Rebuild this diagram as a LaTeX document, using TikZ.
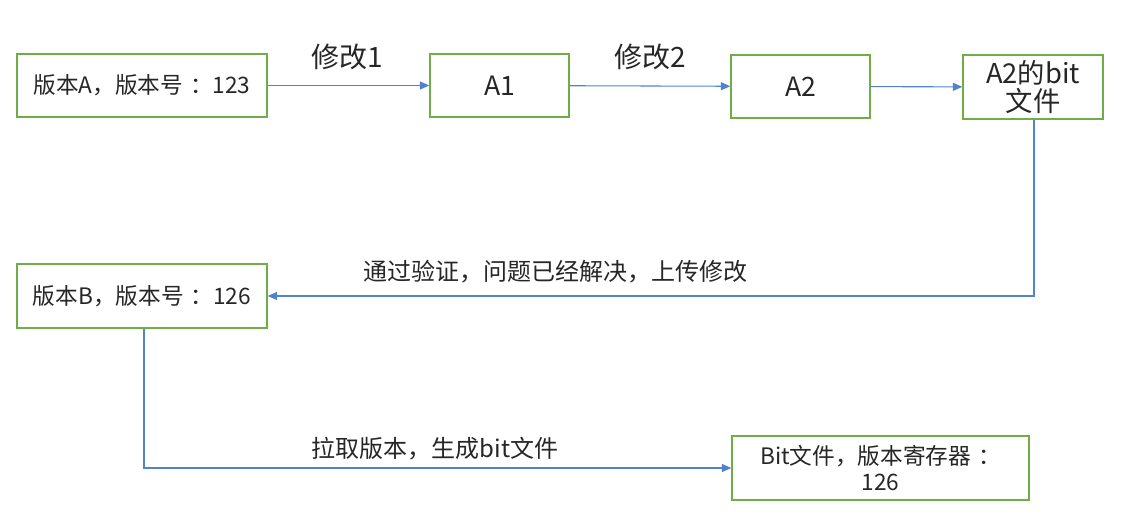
\documentclass[tikz,border=0pt]{standalone}
\usepackage{fontspec}
\setmainfont{Noto Sans CJK SC}
\usetikzlibrary{arrows.meta}
\definecolor{boxgreen}{RGB}{112,173,71}
\definecolor{lineblue}{RGB}{80,130,205}
\newcommand{\ccolon}{\hspace{0.3em}：}
\begin{document}
\begin{tikzpicture}[x=0.75pt,y=-0.75pt,
  box/.style={draw=boxgreen,line width=1.1pt,inner sep=0pt,align=center,text=black!85},
  conn/.style={draw=lineblue,line width=0.8pt,-{Triangle[length=7pt,width=6pt]}},
  lbl/.style={text=black!85,inner sep=0pt}]
\useasboundingbox (0,0) rectangle (1126,527);
\node[box,minimum width=250*0.75pt,minimum height=63*0.75pt,font=\fontsize{17pt}{20pt}\selectfont] (a) at (142,85.5) {版本A，版本号\ccolon 123};
\node[box,minimum width=139*0.75pt,minimum height=63*0.75pt,font=\fontsize{20pt}{24pt}\selectfont] (a1) at (499.5,85.5) {A1};
\node[box,minimum width=139*0.75pt,minimum height=63*0.75pt,font=\fontsize{20pt}{24pt}\selectfont] (a2) at (800.5,86.5) {A2};
\node[box,minimum width=140*0.75pt,minimum height=64*0.75pt,font=\fontsize{20.5pt}{21pt}\selectfont] (bit) at (1033,87) {A2的bit\\文件};
\node[box,minimum width=250*0.75pt,minimum height=64*0.75pt,font=\fontsize{17pt}{20pt}\selectfont] (b) at (142,296) {版本B，版本号\ccolon 126};
\node[box,minimum width=297*0.75pt,minimum height=64*0.75pt,font=\fontsize{17pt}{20pt}\selectfont] (fin) at (880.5,468) {Bit文件，版本寄存器\ccolon\\126};
\node[lbl,font=\fontsize{21pt}{22pt}\selectfont] (l1) at (347,57) {修改1};
\node[lbl,font=\fontsize{21pt}{22pt}\selectfont] (l2) at (650,57) {修改2};
\node[lbl,font=\fontsize{18pt}{20pt}\selectfont] (l3) at (555,272) {通过验证，问题已经解决，上传修改};
\node[lbl,font=\fontsize{18pt}{20pt}\selectfont] (l4) at (435,449) {拉取版本，生成bit文件};
\coordinate (c1) at (1034,296);
\coordinate (c2) at (144,468);
\draw[conn] (a) -- (a1);
\draw[conn] (a1) -- (a2);
\draw[conn] (a2) -- (bit);
\draw[conn] (bit.south -| c1) -- (c1) -- (b.east);
\draw[conn] (b.south -| c2) -- (c2) -- (fin.west);
\end{tikzpicture}
\end{document}
